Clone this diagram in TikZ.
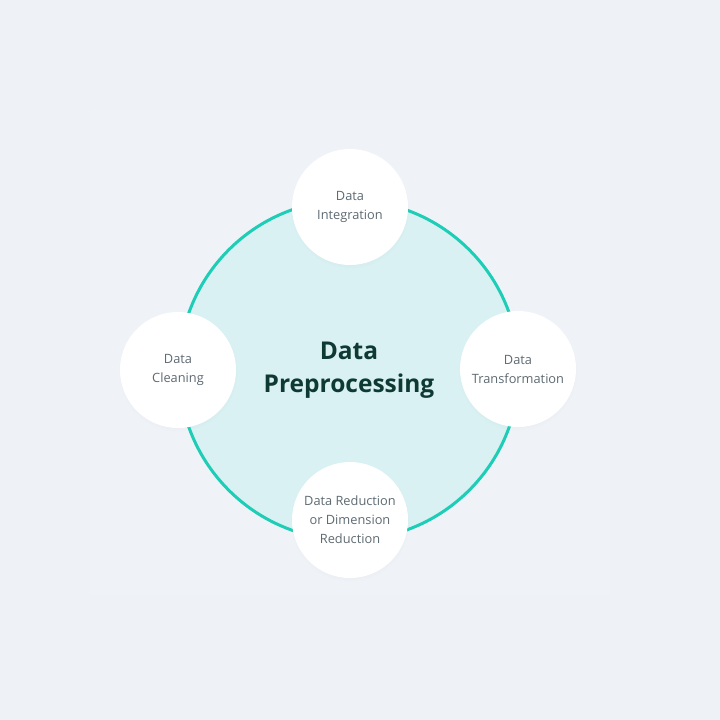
\documentclass[tikz,border=0pt]{standalone}
\usepackage{fontspec}
\setmainfont{Open Sans}
\usetikzlibrary{positioning,shadows}
\definecolor{pagebg}{HTML}{EEF2F7}
\definecolor{panelbg}{HTML}{EFF3F8}
\definecolor{ringteal}{HTML}{1ECDB6}
\definecolor{hubfill}{HTML}{D9F1F3}
\definecolor{hubtext}{HTML}{0E3A33}
\definecolor{stagetext}{HTML}{5E6A72}

\begin{document}
\begin{tikzpicture}[x=1pt,y=-1pt,
  hub/.style={circle,draw=ringteal,line width=3pt,fill=hubfill,minimum size=340pt,
    inner sep=0pt,align=center,text=hubtext,font=\bfseries\fontsize{24.5}{33}\selectfont},
  stage/.style={circle,fill=white,minimum size=116pt,inner sep=0pt,align=center,
    text=stagetext,font=\fontsize{12.8}{19}\selectfont,
    circular drop shadow={shadow xshift=0pt,shadow yshift=-2pt,shadow scale=1.03,opacity=0.06}}]
  \fill[pagebg] (0,0) rectangle (720,720);
  \fill[panelbg] (90,110) rectangle (610,595);
  \node[hub] (hub) at (349,370) {Data\\Preprocessing};
  \node[stage] (integration) at (350,207) {Data\\Integration};
  \node[stage] (cleaning) at (178,370) {Data\\Cleaning};
  \node[stage] (transformation) at (518,369) {Data\\Transformation};
  \node[stage] (reduction) at (350,520) {Data Reduction\\or Dimension\\Reduction};
\end{tikzpicture}
\end{document}
